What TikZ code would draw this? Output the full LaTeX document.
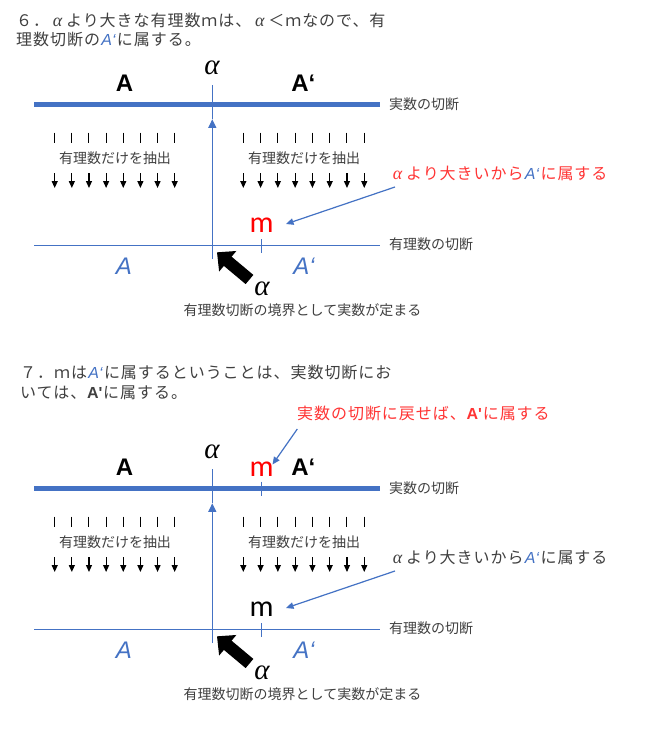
\documentclass[tikz,border=0pt]{standalone}
\usepackage{fontspec}
\setmainfont{Noto Sans CJK JP}
\newfontfamily\jpt[LetterSpace=6]{Noto Sans CJK JP}
\newfontfamily\lat{Liberation Sans}
\newfontfamily\grk{Liberation Serif}
\newfontfamily\carl{Carlito}
\usetikzlibrary{arrows.meta,calc}
\definecolor{ablue}{HTML}{4472C4}
\definecolor{tgray}{HTML}{404040}
\definecolor{mred}{HTML}{FF0000}
\definecolor{lred}{HTML}{FF3535}
\newcommand\GA{\makebox[1.06em]{\grk\itshape\scalebox{1.12}{α}}}
\newcommand\AB{\makebox[1.06em]{\textcolor{ablue}{\lat\itshape A‘}}}
\newcommand\AK{\makebox[1.06em]{\lat\bfseries A'}}
\tikzset{
  ttl/.style={anchor=west, inner sep=0pt, text=tgray, font=\jpt\fontsize{16}{16}\selectfont},
  lbl/.style={anchor=west, inner sep=0pt, text=tgray, font=\fontsize{14}{14}\selectfont},
  sml/.style={inner sep=0pt, text=tgray, font=\fontsize{14}{14}\selectfont},
  bigA/.style={inner sep=0pt, font=\lat\bfseries\fontsize{24}{24}\selectfont},
  itA/.style={inner sep=0pt, text=ablue, font=\lat\itshape\fontsize{24}{24}\selectfont},
  alph/.style={inner sep=0pt, font=\grk\itshape\fontsize{29}{29}\selectfont},
  mm/.style={inner sep=0pt, font=\carl\fontsize{30}{30}\selectfont},
  realcut/.style={ablue, line width=4.6pt},
  ratcut/.style={ablue, line width=1.1pt},
  tickline/.style={ablue, line width=1pt},
  ptr/.style={ablue, line width=1.2pt, -{Triangle[length=7.5pt,width=6.5pt]}},
  uparr/.style={ablue, line width=1.1pt, -{Triangle[length=8.5pt,width=8pt]}},
  bigarr/.style={black, line width=12pt, -{Triangle[length=14pt,width=26pt]}},
  bar/.style={black, line width=1pt},
  dnarr/.style={black, line width=1.2pt, -{Triangle[length=7pt,width=6pt]}}
}
\begin{document}
\begin{tikzpicture}[x=1pt,y=-1pt]
\useasboundingbox[fill=white] (0,0) rectangle (645,734);

% ---------- titles ----------
\node[ttl] (t1a) at (16,20) {６．\GA より大きな有理数ｍは、\GA ＜ｍなので、有};
\node[ttl] (t1b) at (16,39.5) {理数切断の\AB に属する。};
\node[ttl] (t2a) at (20,372.5) {７．ｍは\AB に属するということは、実数切断にお};
\node[ttl] (t2b) at (20,393) {いては、\AK に属する。};

% ---------- common panel ----------
\foreach \dy/\p in {0/a,384/b}{
\begin{scope}[shift={(0,\dy)}]
  \node[alph] (al\p) at (212,68) {α};
  \node[bigA] (A\p) at (124.5,83) {A};
  \node[bigA] (Ap\p) at (303.4,83) {A‘};
  \coordinate (rl\p) at (34,104.3);
  \coordinate (rr\p) at (380,104.3);
  \draw[realcut] (rl\p) -- (rr\p);
  \node[lbl] (rc\p) at (389,104.3) {実数の切断};
  \coordinate (vt\p) at (212.3,85);
  \coordinate (vh\p) at (212.3,119.3);
  \coordinate (vb\p) at (212.3,259);
  \draw[tickline] (vt\p) -- (vh\p);
  \draw[uparr] (vb\p) -- (vh\p);
  \foreach \i in {0,...,7}{
    \draw[bar] ({54.7+17.14*\i},132.7) -- ++(0,10.6);
    \draw[bar] ({243.3+17.28*\i},132.7) -- ++(0,10.6);
    \draw[dnarr] ({54.7+17.14*\i},173) -- ++(0,15);
    \draw[dnarr] ({243.3+17.28*\i},173) -- ++(0,15);
  }
  \node[sml] (ex1\p) at (115,157.7) {有理数だけを抽出};
  \node[sml] (ex2\p) at (304,157.7) {有理数だけを抽出};
  \coordinate (ql\p) at (34,245.7);
  \coordinate (qr\p) at (380,245.7);
  \draw[ratcut] (ql\p) -- (qr\p);
  \node[lbl] (qc\p) at (389,244) {有理数の切断};
  \coordinate (mt\p) at (261.3,239.3);
  \coordinate (mb\p) at (261.3,252.7);
  \draw[tickline] (mt\p) -- (mb\p);
  \node[itA] (iA\p) at (124,266.7) {A};
  \node[itA] (iAp\p) at (304,266.7) {A‘};
  \coordinate (ba\p) at (249.5,279.5);
  \coordinate (bh\p) at (217,252.3);
  \draw[bigarr] (ba\p) -- (bh\p);
  \node[alph] (al2\p) at (262,288.5) {α};
  \node[sml] (bd\p) at (302.5,310) {有理数切断の境界として実数が定まる};
  \coordinate (pa\p) at (395,187);
  \coordinate (pt\p) at (286,224);
  \draw[ptr] (pa\p) -- (pt\p);
\end{scope}
}

% ---------- panel 1 specifics ----------
\node[mm, text=mred] (m1) at (261.7,225.7) {m};
\node[ttl, text=lred] (r1) at (389,173) {\GA より大きいから\AB に属する};

% ---------- panel 2 specifics ----------
\node[mm, text=mred] (m2) at (261.7,469) {m};
\coordinate (rt2) at (261,481.7);
\coordinate (rb2) at (261,496);
\draw[tickline] (rt2) -- (rb2);
\node[ttl, text=lred] (r2) at (297,413) {実数の切断に戻せば、\AK に属する};
\coordinate (pa2) at (297.3,429);
\coordinate (pt2) at (272.5,464.5);
\draw[ptr] (pa2) -- (pt2);
\node[mm, text=black] (m3) at (261.7,609.7) {m};
\node[ttl] (r3) at (389,557) {\GA より大きいから\AB に属する};
\end{tikzpicture}
\end{document}
